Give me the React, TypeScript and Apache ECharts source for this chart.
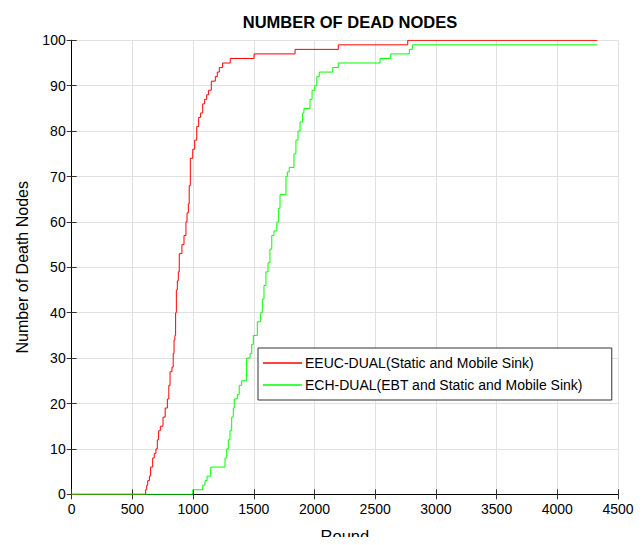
import React, { useEffect, useRef } from "react";
import * as echarts from "echarts";

const titleText = "NUMBER OF DEAD NODES";
const xName = "Round";
const yName = "Number of Death Nodes";
const seriesNames = ["EEUC-DUAL(Static and Mobile Sink)", "ECH-DUAL(EBT and Static and Mobile Sink)"];

// [round, dead nodes]
const eeucRounds = [0, 609, 618, 626, 640, 650, 667, 680, 694, 705, 716, 730, 752, 770, 788, 800, 810, 826, 836, 843, 850, 856, 862, 870, 878, 886, 908, 925, 941, 950, 961, 968, 977, 997, 1013, 1030, 1046, 1062, 1079, 1095, 1112, 1128, 1150, 1183, 1199, 1216, 1243, 1306, 1502, 1840, 2196, 2768, 4330];
const eeucDead = [0, 1, 2, 3, 4, 6, 8, 9, 10, 12, 14, 15, 17, 19, 21, 24, 27, 28, 31, 34, 35, 40, 45, 47, 49, 53, 55, 57, 60, 62, 64, 68, 74, 76, 78, 81, 83, 84, 86, 87, 88, 89, 91, 92, 93, 94, 95, 96, 97, 98, 99, 100, 100];

const echRounds = [0, 997, 1079, 1098, 1115, 1145, 1263, 1277, 1290, 1304, 1318, 1331, 1339, 1364, 1380, 1400, 1441, 1469, 1483, 1496, 1529, 1557, 1570, 1584, 1600, 1617, 1633, 1648, 1666, 1690, 1705, 1716, 1765, 1776, 1792, 1831, 1847, 1864, 1881, 1902, 1913, 1963, 1980, 2002, 2019, 2039, 2150, 2196, 2540, 2628, 2781, 2806, 4330];
const echDead = [0, 1, 2, 3, 4, 6, 8, 10, 12, 14, 17, 19, 21, 22, 24, 25, 30, 31, 33, 35, 38, 40, 43, 46, 49, 51, 54, 57, 58, 60, 63, 66, 70, 71, 72, 75, 78, 80, 82, 84, 85, 87, 89, 90, 92, 93, 94, 95, 96, 97, 98, 99, 99];

const FONT = "'Liberation Sans', Arial, Helvetica, sans-serif";

export default function App() {
  const ref = useRef<HTMLDivElement>(null);
  useEffect(() => {
    if (!ref.current) return;
    const chart = echarts.init(ref.current, undefined, { renderer: "svg" });
    const zip = (xs: number[], ys: number[]) => xs.map((x, i) => [x, ys[i]]);
    const gridLine = { show: true, lineStyle: { color: "#e0e0e0", width: 1 } };
    const axisLine = { show: true, lineStyle: { color: "#000", width: 1 } };
    const tick = { show: true, inside: true, length: 5, lineStyle: { color: "#333" } };
    const plain = (v: number) => String(v);
    chart.setOption({
      animation: false,
      backgroundColor: "#fff",
      textStyle: { fontFamily: FONT },
      title: {
        text: titleText,
        left: 345,
        textAlign: "center",
        top: 8,
        textStyle: { fontSize: 16.5, fontWeight: "bold", color: "#000", fontFamily: FONT },
      },
      legend: {
        orient: "vertical",
        left: 258,
        top: 348,
        data: seriesNames,
        icon: "rect",
        itemWidth: 39,
        itemHeight: 1.3,
        itemGap: 6,
        padding: [7, 29, 7, 5],
        backgroundColor: "#fff",
        borderColor: "#333",
        borderWidth: 1,
        textStyle: { fontSize: 14, lineHeight: 16, color: "#000", fontFamily: FONT, padding: [0, 0, 0, -2] },
      },
      grid: {
        left: 71.7,
        right: 26,
        top: 40.3,
        bottom: 50.7,
        containLabel: false,
        outerBoundsMode: "none",
      },
      xAxis: [
        {
          type: "value",
          min: 0,
          max: 4500,
          interval: 500,
          name: xName,
          nameLocation: "middle",
          nameGap: 33,
          nameTextStyle: { fontSize: 16.5, color: "#000", fontFamily: FONT },
          axisLine,
          axisTick: tick,
          axisLabel: { fontSize: 14, color: "#000", margin: 8, fontFamily: FONT, formatter: plain },
          splitLine: gridLine,
        },
        {
          type: "value",
          position: "top",
          min: 0,
          max: 4500,
          interval: 500,
          axisLine,
          axisTick: tick,
          axisLabel: { show: false },
          splitLine: { show: false },
        },
      ],
      yAxis: [
        {
          type: "value",
          min: 0,
          max: 100,
          interval: 10,
          name: yName,
          nameLocation: "middle",
          nameGap: 41,
          nameTextStyle: { fontSize: 16, color: "#000", fontFamily: FONT },
          axisLine,
          axisTick: tick,
          axisLabel: { fontSize: 14, color: "#000", margin: 6, fontFamily: FONT, formatter: plain },
          splitLine: gridLine,
        },
        {
          type: "value",
          position: "right",
          min: 0,
          max: 100,
          interval: 10,
          axisLine,
          axisTick: tick,
          axisLabel: { show: false },
          splitLine: { show: false },
        },
      ],
      series: [
        {
          name: seriesNames[0],
          type: "line",
          step: "end",
          symbol: "none",
          data: zip(eeucRounds, eeucDead),
          lineStyle: { color: "#ff0000", width: 1 },
          itemStyle: { color: "#ff0000" },
          z: 3,
        },
        {
          name: seriesNames[1],
          type: "line",
          step: "end",
          symbol: "none",
          data: zip(echRounds, echDead),
          lineStyle: { color: "#00ff00", width: 1 },
          itemStyle: { color: "#00ff00" },
          z: 4,
        },
      ],
    });
    return () => chart.dispose();
  }, []);
  return <div ref={ref} style={{ width: 644, height: 545, margin: -8 }} />;
}
